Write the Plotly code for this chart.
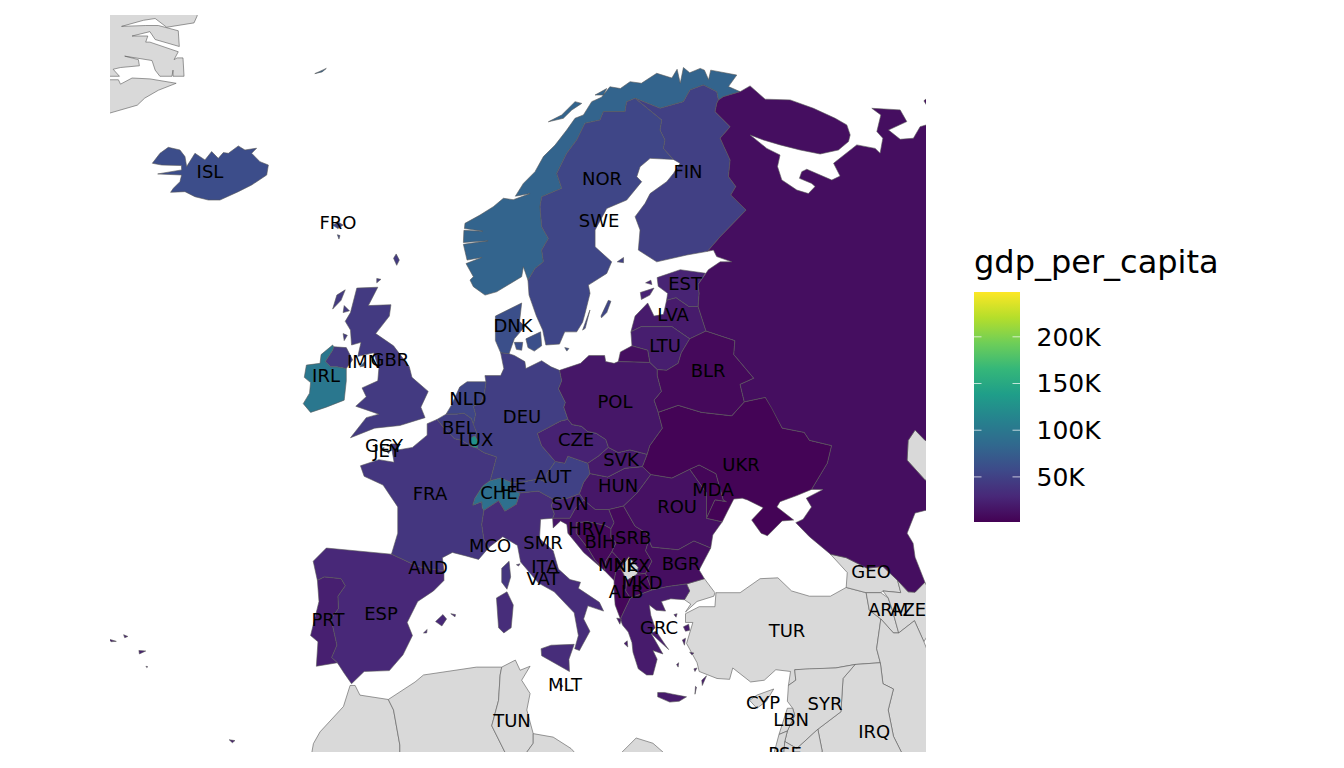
import plotly.graph_objects as go
from plotly.colors import sample_colorscale

# gdp per capita
GDP_CODES = ["ISL", "FRO", "NOR", "SWE", "FIN", "DNK", "EST", "LVA", "LTU", "BLR", "RUS", "POL", "DEU", "NLD", "BEL", "LUX",
             "FRA", "GBR", "IRL", "IMN", "GGY", "JEY", "CHE", "LIE", "AUT", "CZE", "SVK", "HUN", "SVN", "HRV", "BIH", "SRB",
             "MNE", "MKD", "ALB", "ROU", "BGR", "MDA", "UKR", "GRC", "ITA", "ESP", "PRT", "MLT", "AND", "MCO", "SMR"]
GDP_VALUES = [60000, 55000, 80000, 54000, 49000, 62000, 26000, 20000, 22000, 7000, 11000, 17000, 47000, 54000, 47000, 125000,
              41000, 44000, 100000, 75000, 52000, 58000, 92000, 170000, 50000, 25000, 19000, 17000, 27000, 16000, 7000, 8000,
              9000, 6500, 6000, 13000, 11000, 5000, 3500, 20000, 33000, 29000, 23000, 32000, 42000, 240000, 48000]
GREY_CODES = ["GRL", "TUR", "GEO", "ARM", "AZE", "IRN", "IRQ", "SYR", "LBN", "ISR", "JOR", "CYP", "KAZ", "XKX", "MAR", "DZA", "TUN", "LBY"]

CMIN = 1700
CMAX = 248000
LEGEND_TITLE = "gdp_per_capita"
LEGEND_TICKS = [50000, 100000, 150000, 200000]
LEGEND_LABELS = ["50K", "100K", "150K", "200K"]

LABEL_CODES = ["ISL", "FRO", "NOR", "FIN", "SWE", "EST", "LVA", "LTU", "DNK", "BLR", "IMN", "GBR", "IRL", "NLD", "DEU", "POL",
               "BEL", "LUX", "CZE", "GGY", "JEY", "SVK", "UKR", "AUT", "LIE", "CHE", "FRA", "HUN", "MDA", "SVN", "ROU", "HRV",
               "BIH", "SRB", "MCO", "SMR", "AND", "ITA", "VAT", "MNE", "XKX", "BGR", "MKD", "ALB", "PRT", "ESP", "GRC", "TUR",
               "GEO", "ARM", "AZE", "MLT", "TUN", "CYP", "LBN", "SYR", "IRQ", "PSE"]
LABEL_LON = [-19.08, -6.89, 18.25, 26.44, 17.97, 26.16, 25.02, 24.25, 9.78, 28.35, -4.41, -1.94, -8.03, 5.49, 10.63, 19.49,
             4.63, 6.25, 15.78, -2.51, -2.22, 20.06, 31.49, 13.59, 9.78, 8.44, 1.87, 19.78, 28.82, 15.21, 25.4, 16.82,
             18.06, 21.21, 7.59, 12.63, 1.68, 12.82, 12.63, 19.78, 21.11, 25.78, 22.06, 20.54, -7.84, -2.79, 23.68, 35.87,
             43.87, 45.49, 47.4, 14.73, 9.68, 33.59, 36.25, 39.49, 44.16, 35.68]
LABEL_LAT = [65.12, 62.26, 64.72, 65.12, 62.32, 58.72, 57.0, 55.23, 56.37, 53.8, 54.32, 54.43, 53.52, 52.2, 51.17, 52.03,
             50.55, 49.86, 49.86, 49.52, 49.23, 48.72, 48.43, 47.75, 47.29, 46.83, 46.77, 47.23, 47.0, 46.2, 46.03, 44.77,
             44.03, 44.26, 43.8, 43.97, 42.55, 42.6, 41.92, 42.72, 42.66, 42.77, 41.69, 41.17, 39.57, 39.92, 39.12, 38.95,
             42.32, 40.15, 40.15, 35.86, 33.8, 34.83, 33.86, 34.77, 33.17, 31.92]

# shared borders, (lon, lat)
NOR_SWE = [(21.4, 69.44), (20.6, 69.25), (20.44, 68.68), (18.38, 68.68), (18.06, 68.2), (16.63, 68.01), (15.84, 67.06), (14.89, 66.3),
           (13.94, 65.15), (14.41, 64.3), (12.51, 63.82), (12.35, 63.25), (12.51, 62.1), (13.14, 61.44), (12.51, 60.77), (12.67, 60.1),
           (11.87, 59.72), (11.4, 59.25), (11.2, 59.05)]
SWE_FIN = [(21.4, 69.44), (23.94, 68.2), (23.78, 67.63), (24.25, 67.06), (24.1, 66.58), (25.05, 65.95)]
NOR_FIN = [(29.33, 69.34), (29.17, 69.82), (27.9, 70.2), (26.63, 69.92), (26.0, 69.25), (23.78, 68.87), (21.4, 69.44)]
NOR_RUS = [(31.4, 69.82), (29.8, 69.53), (29.33, 69.34)]
FIN_RUS = [(28.3, 60.7), (29.5, 61.54), (31.97, 63.06), (30.51, 63.92), (30.99, 64.4), (30.29, 64.97), (30.45, 65.92), (29.5, 67.16),
           (30.45, 67.82), (29.02, 68.68), (29.18, 69.16), (29.33, 69.34)]
DEU_POL = [(14.2, 53.9), (14.4, 53.3), (14.1, 52.85), (14.75, 52.07), (14.6, 51.8), (15.0, 51.1)]
CZE_POL = [(15.0, 51.1), (15.4, 50.8), (16.3, 50.7), (16.9, 50.4), (17.7, 50.3), (18.6, 49.95), (18.85, 49.5)]
SVK_POL = [(18.85, 49.5), (19.8, 49.2), (20.9, 49.35), (22.55, 49.1)]
POL_UKR = [(22.55, 49.1), (22.8, 49.6), (24.0, 50.6), (23.6, 51.5)]
BLR_POL = [(23.6, 51.5), (23.2, 52.2), (23.9, 52.7), (23.5, 53.6), (23.5, 53.95)]
LTU_POL = [(23.5, 53.95), (22.8, 54.35)]
KAL_POL = [(22.8, 54.35), (19.8, 54.4)]
LTU_KAL = [(21.1, 55.3), (22.6, 55.05), (22.8, 54.35)]
DEU_NLD = [(7.2, 53.25), (7.05, 52.6), (6.7, 52.05), (6.0, 51.85), (6.2, 51.4), (6.0, 50.8)]
DEU_BEL = [(6.0, 50.8), (6.3, 50.35), (6.15, 50.15)]
DEU_LUX = [(6.15, 50.15), (6.5, 49.8), (6.35, 49.45)]
DEU_FRA = [(6.35, 49.45), (7.0, 49.2), (8.2, 48.95), (7.6, 47.6)]
DEU_CHE = [(7.6, 47.6), (8.6, 47.75), (9.6, 47.5)]
DEU_AUT = [(9.6, 47.5), (10.5, 47.5), (12.2, 47.7), (13.0, 47.5), (13.0, 48.0), (13.8, 48.7)]
DEU_CZE = [(13.8, 48.7), (12.5, 49.6), (12.1, 50.3), (14.3, 51.0), (15.0, 51.1)]
AUT_CZE = [(13.8, 48.7), (14.7, 48.6), (15.0, 49.0), (16.9, 48.6)]
SVK_CZE = [(16.9, 48.6), (17.9, 49.0), (18.85, 49.5)]
CHE_AUT = [(9.6, 47.5), (9.5, 47.1), (10.45, 46.9)]
ITA_AUT = [(10.45, 46.9), (12.2, 47.0), (13.7, 46.5)]
SVN_AUT = [(13.7, 46.5), (15.0, 46.6), (16.1, 46.85)]
HUN_AUT = [(16.1, 46.85), (16.5, 47.5), (17.1, 48.0)]
AUT_SVK = [(17.1, 48.0), (16.9, 48.6)]
SVK_HUN = [(17.1, 48.0), (18.8, 47.8), (20.4, 48.3), (22.1, 48.4)]
UKR_HUN = [(22.1, 48.4), (22.9, 47.95)]
ROU_HUN = [(22.9, 47.95), (21.6, 46.9), (20.3, 46.15)]
SRB_HUN = [(20.3, 46.15), (18.9, 45.95)]
HRV_HUN = [(16.5, 46.5), (17.6, 45.95), (18.9, 45.95)]
SVN_HUN = [(16.5, 46.5), (16.1, 46.85)]
SVK_UKR = [(22.55, 49.1), (22.1, 48.4)]
ROU_UKR_N = [(22.9, 47.95), (24.9, 47.75), (26.6, 48.25)]
ROU_UKR_S = [(29.7, 45.25), (28.2, 45.45)]
MDA_UKR = [(26.6, 48.25), (27.5, 48.5), (29.1, 48.0), (29.8, 46.5), (30.1, 46.4), (29.0, 46.5), (28.2, 45.45)]
ROU_MDA = [(26.6, 48.25), (28.2, 46.9), (28.2, 45.45)]
SRB_ROU = [(20.3, 46.15), (21.4, 45.0), (22.5, 44.6), (22.7, 44.2)]
BGR_ROU = [(22.7, 44.2), (23.0, 43.8), (25.5, 43.65), (27.0, 44.15), (28.6, 43.75)]
SRB_BGR = [(22.7, 44.2), (22.4, 43.6), (23.0, 43.0), (22.4, 42.3)]
MKD_BGR = [(22.4, 42.3), (23.0, 41.35)]
GRC_BGR = [(23.0, 41.35), (24.5, 41.55), (26.3, 41.7)]
TUR_BGR = [(26.3, 41.7), (28.0, 42.0)]
TUR_GRC = [(26.3, 41.7), (26.6, 41.3), (26.1, 40.8)]
ALB_GRC = [(20.0, 39.7), (20.95, 40.9)]
MKD_GRC = [(20.95, 40.9), (23.0, 41.35)]
ALB_MNE = [(19.4, 41.9), (19.6, 42.5), (20.05, 42.55)]
ALB_KOS = [(20.05, 42.55), (20.6, 41.9)]
ALB_MKD = [(20.6, 41.9), (20.5, 41.3), (20.95, 40.9)]
MNE_KOS = [(20.3, 42.85), (20.05, 42.55)]
SRB_MNE = [(19.2, 43.55), (20.3, 42.85)]
SRB_KOS = [(20.3, 42.85), (20.8, 43.25), (21.7, 42.65), (21.6, 42.25)]
MKD_KOS = [(21.6, 42.25), (20.6, 41.9)]
MKD_SRB = [(21.6, 42.25), (22.4, 42.3)]
BIH_MNE = [(18.5, 42.45), (18.6, 43.0), (19.2, 43.55)]
BIH_SRB = [(19.2, 43.55), (19.6, 44.05), (19.1, 44.35), (19.1, 44.85)]
SRB_HRV = [(19.1, 44.85), (19.4, 45.2), (18.9, 45.95)]
BIH_HRV = [(19.1, 44.85), (18.5, 45.05), (16.9, 45.25), (15.8, 45.2), (15.8, 44.6), (16.9, 43.75), (17.6, 43.05), (18.5, 42.45)]
SVN_HRV = [(13.55, 45.45), (15.2, 45.45), (15.7, 46.0), (16.5, 46.5)]
ITA_SVN = [(13.7, 46.5), (13.4, 46.2), (13.7, 45.7), (13.55, 45.45)]
CHE_ITA = [(10.45, 46.9), (10.1, 46.25), (9.0, 45.85), (8.4, 46.45), (7.0, 45.9)]
FRA_ITA = [(7.0, 45.9), (6.8, 45.1), (7.0, 44.25), (7.5, 43.8)]
FRA_CHE = [(7.6, 47.6), (6.9, 47.3), (6.15, 46.6), (5.95, 46.2), (6.8, 46.4), (6.85, 46.05), (7.0, 45.9)]
FRA_LUX = [(6.35, 49.45), (5.8, 49.55)]
BEL_LUX = [(5.8, 49.55), (5.75, 50.05), (6.15, 50.15)]
FRA_BEL = [(5.8, 49.55), (4.9, 49.9), (4.2, 50.0), (3.0, 50.75), (2.55, 51.1)]
NLD_BEL = [(3.4, 51.4), (4.4, 51.4), (5.1, 51.45), (5.8, 51.15), (6.0, 50.8)]
ESP_FRA = [(-1.8, 43.4), (0.7, 42.7), (1.45, 42.6), (3.2, 42.45)]
PRT_ESP = [(-6.95, 37.2), (-7.5, 37.5), (-7.0, 38.2), (-7.55, 39.7), (-6.85, 40.3), (-6.9, 41.0), (-6.2, 41.6), (-6.6, 42.0), (-8.2, 42.1), (-8.85, 41.9)]
LVA_EST = [(24.4, 57.9), (25.3, 58.05), (26.5, 57.55), (27.4, 57.55)]
EST_RUS = [(27.4, 57.55), (27.5, 58.3), (27.4, 58.8), (28.1, 59.45)]
LTU_LVA = [(21.0, 56.1), (22.0, 56.4), (24.9, 56.4), (26.6, 55.7)]
BLR_LVA = [(26.6, 55.7), (28.15, 56.15)]
LVA_RUS = [(28.15, 56.15), (27.4, 57.55)]
BLR_LTU = [(26.6, 55.7), (25.8, 54.9), (25.5, 54.3), (24.4, 53.9), (23.5, 53.95)]
BLR_RUS = [(28.15, 56.15), (30.9, 55.6), (30.8, 54.8), (32.7, 53.45), (31.4, 53.1), (31.8, 52.1)]
BLR_UKR = [(31.8, 52.1), (30.6, 51.3), (27.7, 51.5), (25.5, 51.9), (23.6, 51.5)]
UKR_RUS = [(31.8, 52.1), (33.8, 52.35), (34.4, 51.75), (35.4, 50.6), (37.5, 50.35), (38.0, 49.9), (40.1, 49.6), (39.7, 48.6), (38.2, 47.1)]
GEO_RUS = [(40.0, 43.4), (41.5, 43.2), (43.5, 42.6), (45.0, 42.7), (46.4, 41.9)]
AZE_RUS = [(46.4, 41.9), (47.4, 41.25), (48.06, 41.23), (49.0, 41.8)]
KAZ_RUS = [(56, 49.9), (49.02, 49.9), (48.06, 50.49), (47.4, 49.9), (47.3, 48.77), (49.02, 47.63), (56, 47.5)]

# coasts
NOR_COAST = [(11.2, 59.05), (10.76, 59.82), (10.6, 59.25), (8.22, 58.39), (7.11, 58.2), (6.0, 58.68), (5.68, 59.06), (6.0, 59.25), (5.3, 60.0), (6.8, 60.35), (5.4, 60.2),
             (5.05, 61.1), (7.4, 61.3), (5.05, 61.2), (5.1, 61.9), (6.9, 61.85), (5.15, 62.0), (5.2, 62.3), (6.63, 62.77), (7.9, 63.25), (8.86, 63.73), (9.8, 63.65), (11.4, 64.0),
             (10.0, 63.85), (10.76, 64.58), (11.87, 65.25), (12.67, 66.11), (13.78, 66.77), (14.89, 67.63), (15.68, 68.3), (16.48, 68.49), (17.27, 69.25), (18.2, 69.5), (19.0, 70.1),
             (20.0, 70.0), (20.92, 70.39), (22.0, 70.3), (23.46, 70.87), (24.9, 70.6), (25.4, 71.1), (25.7, 70.3), (26.0, 71.2), (26.6, 70.9), (27.6, 71.15), (28.0, 71.05),
             (28.4, 70.5), (28.6, 71.05), (29.5, 70.95), (31.08, 70.77), (30.29, 70.11), (31.4, 69.82)]
SWE_COAST = [(25.05, 65.95), (22.83, 66.01), (21.87, 65.53), (21.56, 64.96), (22.03, 64.68), (20.6, 63.63), (18.7, 63.15), (17.59, 61.92), (17.59, 60.96),
             (19.17, 60.1), (18.7, 59.44), (16.95, 58.77), (17.11, 58.3), (16.63, 57.15), (16.4, 56.65), (15.84, 56.1), (14.7, 56.1), (14.2, 55.4),
             (12.9, 55.35), (12.6, 56.2), (12.0, 57.0), (11.3, 58.2), (11.2, 59.05)]
FIN_COAST = [(25.05, 65.95), (25.68, 65.73), (25.05, 65.15), (24.41, 64.68), (22.83, 64.0), (22.35, 63.44), (21.4, 62.68), (21.87, 61.92), (21.71, 60.77),
             (23.46, 60.1), (26.32, 60.49), (28.3, 60.7)]
RUS_NORTH = [(31.4, 69.82), (32.35, 70.15), (33.78, 69.39), (36.16, 69.35), (38.38, 68.87), (40.45, 68.3), (41.56, 67.92), (41.88, 67.35), (41.72, 66.97),
             (40.76, 66.49), (39.02, 66.26), (37.11, 66.49), (35.21, 66.78), (33.62, 67.06), (32.35, 67.35), (33.94, 66.58), (35.2, 66.2), (34.96, 65.54),
             (35.37, 64.78), (36.8, 64.2), (37.9, 64.0), (38.54, 64.4), (38.22, 64.58), (37.05, 64.87), (37.27, 65.25), (37.75, 65.39), (40.13, 64.77),
             (40.92, 65.0), (40.3, 65.73), (41.24, 66.2), (42.51, 66.78), (44.26, 66.58), (44.73, 66.3), (44.99, 67.16), (44.42, 67.54), (44.8, 68.49),
             (43.94, 68.87), (46.64, 68.78), (47.27, 68.11), (45.53, 67.63), (46.64, 67.1), (47.9, 67.16), (48.54, 67.82), (49.11, 67.92), (56, 68.5)]
RUS_CASPIAN = [(56, 47.5), (56, 45.9), (49.02, 45.9), (48.06, 45.75), (47.3, 44.6), (47.87, 44.03), (48.06, 43.23), (49.0, 41.8)]
RUS_BLACK_SEA = [(40.0, 43.4), (38.0, 44.4), (36.7, 45.2), (37.4, 45.4), (38.2, 46.1), (37.7, 46.6), (39.3, 47.1), (38.2, 47.1)]
RUS_GULF = [(28.1, 59.45), (28.38, 59.65), (29.5, 60.1), (30.6, 60.1), (29.17, 60.4), (28.86, 60.77), (28.3, 60.7)]
POL_COAST = [(19.8, 54.4), (19.4, 54.3), (18.6, 54.4), (18.5, 54.75), (17.0, 54.75), (16.2, 54.3), (14.2, 53.9)]
DEU_COAST = [(14.2, 53.9), (13.4, 54.1), (12.5, 54.45), (11.0, 54.0), (10.9, 54.4), (9.9, 54.75), (9.4, 54.85), (8.6, 54.9), (8.9, 54.0), (8.6, 53.6),
             (7.1, 53.6), (7.2, 53.25)]
NLD_COAST = [(3.4, 51.4), (3.9, 51.9), (4.7, 52.95), (5.4, 53.25), (7.2, 53.25)]
BEL_COAST = [(2.55, 51.1), (3.4, 51.4)]
FRA_COAST_N = [(2.55, 51.1), (1.6, 50.85), (1.6, 50.2), (0.2, 49.5), (-1.2, 49.35), (-1.3, 49.7), (-1.85, 49.7), (-1.55, 48.65), (-3.0, 48.8), (-4.75, 48.45),
               (-4.4, 47.85), (-2.6, 47.35), (-1.2, 46.1), (-1.2, 44.6), (-1.8, 43.4)]
FRA_COAST_S = [(3.2, 42.45), (3.05, 43.2), (4.0, 43.5), (5.3, 43.3), (6.5, 43.1), (7.5, 43.8)]
ESP_COAST_E = [(3.2, 42.45), (3.2, 41.9), (2.2, 41.3), (0.7, 40.7), (-0.3, 39.5), (0.2, 38.75), (-0.7, 37.65), (-2.0, 36.75), (-4.4, 36.7), (-5.6, 36.0),
               (-6.3, 36.6), (-6.95, 37.2)]
ESP_COAST_N = [(-8.85, 41.9), (-9.25, 43.0), (-8.0, 43.75), (-3.8, 43.5), (-1.8, 43.4)]
PRT_COAST = [(-8.85, 41.9), (-8.7, 40.7), (-9.5, 38.75), (-8.8, 38.4), (-8.95, 37.0), (-6.95, 37.2)]
ITA_COAST = [(7.5, 43.8), (8.8, 44.4), (10.2, 43.9), (10.5, 42.95), (12.2, 41.75), (13.7, 41.25), (15.6, 40.05), (16.0, 38.75), (15.65, 38.0), (16.1, 37.9),
             (17.1, 39.0), (16.5, 39.7), (16.9, 40.45), (18.4, 40.15), (18.0, 40.65), (16.0, 41.45), (16.2, 41.8), (15.2, 41.95), (14.1, 42.55), (13.6, 43.6),
             (12.3, 44.3), (12.4, 45.4), (13.55, 45.45)]
HRV_COAST = [(18.5, 42.45), (16.5, 43.5), (15.0, 44.6), (14.9, 45.1), (14.3, 45.3), (13.6, 44.9), (13.55, 45.45)]
MNE_COAST = [(18.5, 42.45), (19.4, 41.9)]
ALB_COAST = [(19.4, 41.9), (19.4, 41.3), (19.5, 40.5), (20.0, 39.7)]
GRC_COAST = [(26.1, 40.8), (24.8, 40.85), (23.9, 40.7), (24.3, 40.15), (23.4, 40.2), (22.75, 40.5), (22.9, 39.9), (23.3, 39.2), (22.9, 38.9), (24.05, 37.7),
             (23.1, 37.9), (23.5, 37.4), (23.1, 36.5), (22.5, 36.5), (21.7, 36.85), (21.2, 37.8), (21.1, 38.35), (20.75, 38.95), (20.2, 39.35), (20.0, 39.7)]
BGR_COAST = [(28.6, 43.75), (27.5, 42.5), (28.0, 42.0)]
ROU_COAST = [(29.7, 45.25), (28.8, 44.5), (28.6, 43.75)]
UKR_COAST = [(38.2, 47.1), (36.8, 46.75), (35.2, 46.4), (34.9, 46.1), (36.5, 45.35), (35.4, 45.3), (34.0, 44.45), (33.4, 44.6), (32.5, 45.35), (33.6, 46.05),
             (32.1, 46.5), (31.6, 46.6), (30.8, 46.55), (30.2, 45.85), (29.7, 45.25)]
EST_COAST = [(28.1, 59.45), (25.7, 59.65), (23.5, 59.2), (23.6, 58.7), (24.5, 58.3), (24.4, 57.9)]
LVA_COAST = [(24.4, 57.9), (24.1, 57.1), (23.2, 57.0), (22.6, 57.75), (21.4, 57.0), (21.0, 56.1)]
LTU_COAST = [(21.0, 56.1), (21.1, 55.3)]
KAL_COAST = [(19.8, 54.4), (20.0, 54.95), (21.1, 55.3)]

OUTLINES = {
    "NOR": [NOR_COAST + NOR_RUS + NOR_FIN + NOR_SWE,
            [(-9.1, 70.85), (-8.0, 71.15), (-8.4, 70.95)],
            [(13.14, 68.1), (14.41, 68.49), (15.68, 69.25), (16.32, 69.15), (15.37, 68.77), (14.57, 68.3)],
            [(17.59, 69.63), (18.7, 70.0), (18.38, 69.63)]],
    "SWE": [SWE_FIN + SWE_COAST + NOR_SWE[::-1],
            [(18.15, 57.0), (18.85, 57.9), (19.1, 57.85), (18.7, 57.2), (18.2, 56.9)],
            [(16.4, 56.2), (17.1, 57.35), (16.65, 56.3)]],
    "FIN": [FIN_COAST + FIN_RUS + NOR_FIN + SWE_FIN,
            [(19.7, 60.1), (20.3, 60.35), (20.3, 60.05)]],
    "RUS": [RUS_NORTH + KAZ_RUS + RUS_CASPIAN + AZE_RUS[::-1] + GEO_RUS[::-1] + RUS_BLACK_SEA + UKR_RUS[::-1] + BLR_RUS[::-1] + LVA_RUS + EST_RUS + RUS_GULF + FIN_RUS + NOR_RUS[::-1],
            LTU_KAL + KAL_POL + KAL_COAST,
            [(48.9, 69.3), (49.3, 69.5), (49.3, 68.9)]],
    "DNK": [[(8.6, 54.9), (8.1, 55.6), (8.1, 57.0), (10.6, 57.75), (10.4, 56.7), (10.9, 56.4), (9.9, 55.7), (9.4, 54.85)],
            [(11.0, 55.7), (12.4, 56.1), (12.5, 55.3), (11.8, 55.0), (11.2, 55.2)],
            [(9.9, 55.5), (10.7, 55.5), (10.6, 55.05), (10.1, 55.1)],
            [(14.7, 55.2), (15.1, 55.15), (14.9, 55.0)]],
    "EST": [EST_COAST + LVA_EST + EST_RUS,
            [(21.9, 58.35), (23.2, 58.6), (22.8, 58.2), (22.0, 57.95)],
            [(22.4, 58.9), (22.9, 59.05), (23.0, 58.8)]],
    "LVA": [LVA_COAST + LTU_LVA + BLR_LVA + LVA_RUS + LVA_EST[::-1]],
    "LTU": [LTU_COAST + LTU_KAL + LTU_POL[::-1] + BLR_LTU[::-1] + LTU_LVA[::-1]],
    "BLR": [BLR_LVA + BLR_RUS + BLR_UKR + BLR_POL + BLR_LTU[::-1]],
    "POL": [DEU_POL + CZE_POL + SVK_POL + POL_UKR + BLR_POL + LTU_POL + KAL_POL + POL_COAST],
    "DEU": [DEU_COAST + DEU_NLD + DEU_BEL + DEU_LUX + DEU_FRA + DEU_CHE + DEU_AUT + DEU_CZE + DEU_POL[::-1]],
    "NLD": [NLD_COAST + DEU_NLD + NLD_BEL[::-1]],
    "BEL": [BEL_COAST + NLD_BEL + DEU_BEL + BEL_LUX[::-1] + FRA_BEL],
    "LUX": [BEL_LUX + DEU_LUX + FRA_LUX],
    "FRA": [FRA_COAST_N + ESP_FRA + FRA_COAST_S + FRA_ITA[::-1] + FRA_CHE[::-1] + DEU_FRA[::-1] + FRA_LUX + FRA_BEL,
            [(8.7, 42.6), (9.4, 43.0), (9.55, 42.1), (9.2, 41.4), (8.7, 41.8)]],
    "GBR": [[(-5.1, 58.6), (-3.1, 58.65), (-4.0, 57.6), (-1.85, 57.65), (-2.0, 57.0), (-3.3, 56.0), (-1.6, 55.3), (-0.1, 54.1), (0.15, 53.5), (1.7, 52.7),
             (1.0, 51.8), (1.4, 51.2), (-1.0, 50.75), (-3.4, 50.6), (-5.7, 50.05), (-4.2, 51.2), (-3.0, 51.4), (-5.2, 51.85), (-4.2, 52.4), (-4.6, 52.9),
             (-3.1, 53.3), (-3.0, 54.0), (-3.5, 54.9), (-5.0, 54.7), (-4.7, 55.5), (-5.6, 55.35), (-5.7, 56.2), (-6.2, 56.7), (-5.7, 57.2)],
            [(-7.3, 55.25), (-6.1, 55.2), (-5.5, 54.5), (-6.1, 54.0), (-7.0, 54.1), (-7.6, 54.1), (-8.1, 54.4), (-7.4, 55.05)],
            [(-6.2, 58.5), (-7.0, 58.2), (-7.4, 57.4), (-6.6, 57.9)],
            [(-6.3, 57.6), (-5.8, 57.3), (-6.4, 57.2)],
            [(-6.4, 56.0), (-6.0, 55.9), (-6.3, 55.6)],
            [(-3.2, 59.15), (-2.8, 59.1), (-3.2, 58.9)],
            [(-1.35, 60.55), (-1.05, 60.2), (-1.3, 59.9), (-1.6, 60.3)]],
    "IRL": [[(-6.1, 54.0), (-6.1, 53.3), (-6.3, 52.2), (-8.0, 51.8), (-9.5, 51.5), (-10.2, 52.0), (-9.6, 52.6), (-9.5, 53.2), (-10.1, 53.5), (-9.9, 54.2),
             (-8.6, 54.3), (-8.5, 54.8), (-7.4, 55.35), (-7.3, 55.25), (-7.4, 55.05), (-8.1, 54.4), (-7.6, 54.1), (-7.0, 54.1)]],
    "ISL": [[(-24.57, 65.73), (-23.84, 66.3), (-23.05, 66.64), (-21.94, 66.49), (-21.46, 66.11), (-21.3, 65.54), (-20.51, 66.3), (-19.56, 65.92), (-18.92, 66.4),
             (-18.29, 66.01), (-17.81, 66.34), (-17.33, 66.3), (-16.38, 66.72), (-15.75, 66.49), (-14.64, 66.59), (-15.11, 66.3), (-14.32, 65.82), (-13.52, 65.63),
             (-13.68, 65.06), (-15.11, 64.49), (-16.38, 64.11), (-18.13, 63.63), (-19.24, 63.63), (-20.51, 63.82), (-21.46, 64.11), (-22.83, 64.07), (-22.57, 64.3),
             (-21.94, 64.68), (-21.78, 65.06), (-24.06, 65.12), (-21.78, 65.35), (-21.8, 65.6), (-23.68, 65.63)]],
    "FRO": [[(-7.4, 62.2), (-6.8, 62.35), (-6.4, 62.2), (-6.9, 62.0)], [(-6.95, 61.65), (-6.7, 61.6), (-6.8, 61.4)]],
    "IMN": [[(-4.8, 54.1), (-4.35, 54.4), (-4.4, 54.15)]],
    "GGY": [[(-2.65, 49.45), (-2.5, 49.5), (-2.55, 49.4)]],
    "JEY": [[(-2.25, 49.25), (-2.0, 49.25), (-2.05, 49.15)]],
    "CHE": [DEU_CHE + CHE_AUT + CHE_ITA + FRA_CHE[::-1]],
    "LIE": [[(9.47, 47.25), (9.63, 47.2), (9.55, 47.05)]],
    "AUT": [DEU_AUT + AUT_CZE + AUT_SVK[::-1] + HUN_AUT[::-1] + SVN_AUT[::-1] + ITA_AUT[::-1] + CHE_AUT[::-1]],
    "CZE": [DEU_CZE + CZE_POL + SVK_CZE[::-1] + AUT_CZE[::-1]],
    "SVK": [SVK_CZE + SVK_POL + SVK_UKR + SVK_HUN[::-1] + AUT_SVK],
    "HUN": [SVK_HUN + UKR_HUN + ROU_HUN + SRB_HUN + HRV_HUN[::-1] + SVN_HUN + HUN_AUT],
    "SVN": [ITA_SVN + SVN_HRV + SVN_HUN + SVN_AUT[::-1]],
    "HRV": [HRV_HUN + SRB_HRV[::-1] + BIH_HRV + HRV_COAST + SVN_HRV],
    "BIH": [BIH_MNE + BIH_SRB + BIH_HRV],
    "SRB": [SRB_HUN[::-1] + SRB_ROU + SRB_BGR + MKD_SRB[::-1] + SRB_KOS[::-1] + SRB_MNE[::-1] + BIH_SRB + SRB_HRV],
    "MNE": [MNE_COAST + ALB_MNE + MNE_KOS[::-1] + SRB_MNE[::-1] + BIH_MNE[::-1]],
    "XKX": [SRB_KOS + MKD_KOS + ALB_KOS[::-1] + MNE_KOS[::-1]],
    "MKD": [MKD_SRB + MKD_BGR + MKD_GRC[::-1] + ALB_MKD[::-1] + MKD_KOS[::-1]],
    "ALB": [ALB_COAST + ALB_GRC + ALB_MKD[::-1] + ALB_KOS[::-1] + ALB_MNE[::-1]],
    "ROU": [ROU_HUN[::-1] + ROU_UKR_N + ROU_MDA + ROU_UKR_S[::-1] + ROU_COAST + BGR_ROU[::-1] + SRB_ROU[::-1]],
    "BGR": [BGR_ROU + BGR_COAST + TUR_BGR[::-1] + GRC_BGR[::-1] + MKD_BGR[::-1] + SRB_BGR[::-1]],
    "MDA": [MDA_UKR + ROU_MDA[::-1]],
    "UKR": [POL_UKR + BLR_UKR[::-1] + UKR_RUS + UKR_COAST + ROU_UKR_S + MDA_UKR[::-1] + ROU_UKR_N[::-1] + UKR_HUN[::-1] + SVK_UKR[::-1]],
    "GRC": [GRC_COAST + ALB_GRC + MKD_GRC + GRC_BGR + TUR_GRC,
            [(23.55, 35.5), (24.2, 35.5), (25.0, 35.4), (26.3, 35.25), (25.6, 35.0), (24.7, 34.95), (23.55, 35.25)],
            [(22.9, 38.9), (23.4, 39.0), (24.3, 38.2), (24.6, 37.95), (23.6, 38.5)],
            [(26.0, 39.25), (26.5, 39.4), (26.6, 39.05), (26.2, 39.0)],
            [(25.9, 38.5), (26.2, 38.6), (26.1, 38.2)],
            [(26.6, 37.8), (27.0, 37.75), (26.8, 37.65)],
            [(27.75, 36.2), (28.2, 36.45), (27.8, 35.9)],
            [(19.65, 39.75), (20.1, 39.7), (19.95, 39.4)],
            [(20.35, 38.3), (20.65, 38.45), (20.7, 38.1)],
            [(25.1, 39.95), (25.4, 40.0), (25.3, 39.8)],
            [(25.35, 37.1), (25.55, 37.2), (25.5, 36.95)],
            [(27.0, 36.85), (27.3, 36.9), (27.1, 36.7)],
            [(27.15, 35.85), (27.25, 35.8), (27.1, 35.4)]],
    "ITA": [CHE_ITA + FRA_ITA + ITA_COAST + ITA_SVN[::-1] + ITA_AUT[::-1],
            [(12.45, 38.0), (13.4, 38.2), (15.6, 38.25), (15.1, 37.4), (15.15, 36.7), (14.3, 37.0), (12.5, 37.6)],
            [(8.2, 40.9), (9.2, 41.25), (9.8, 40.5), (9.6, 39.2), (8.9, 38.9), (8.4, 39.2)],
            [(10.1, 42.8), (10.45, 42.85), (10.3, 42.72)]],
    "ESP": [ESP_COAST_E + PRT_ESP + ESP_COAST_N + ESP_FRA,
            [(2.4, 39.55), (3.1, 39.95), (3.45, 39.7), (3.0, 39.3)],
            [(3.85, 40.0), (4.3, 39.95), (4.25, 39.82)],
            [(1.25, 38.9), (1.6, 39.1), (1.55, 38.9)]],
    "PRT": [PRT_COAST + PRT_ESP,
            [(-28.7, 38.55), (-28.0, 38.42), (-28.5, 38.4)],
            [(-27.3, 38.8), (-26.9, 38.7), (-27.2, 38.63)],
            [(-25.85, 37.9), (-25.2, 37.87), (-25.8, 37.7)],
            [(-25.18, 37.0), (-25.0, 36.97), (-25.1, 36.92)],
            [(-17.25, 32.8), (-16.7, 32.75), (-16.95, 32.63)]],
    "MLT": [[(14.2, 36.03), (14.55, 35.85), (14.35, 35.8)]],
    "AND": [[(1.42, 42.65), (1.72, 42.6), (1.5, 42.43)]],
    "MCO": [[(7.38, 43.76), (7.46, 43.77), (7.42, 43.71)]],
    "SMR": [[(12.4, 43.98), (12.5, 43.98), (12.46, 43.89)]],
    "GRL": [[(-40, 76), (-20.3, 76), (-20.3, 74.15), (-20.6, 73.75), (-23.2, 73.5), (-24.3, 74.0), (-25.4, 73.9), (-27.5, 73.55), (-25.2, 73.6), (-24.0, 73.6),
             (-22.1, 73.3), (-22.0, 72.4), (-24.3, 72.8), (-24.8, 73.25), (-26.5, 73.0), (-25.0, 73.0), (-25.2, 72.65), (-24.8, 72.65), (-22.1, 72.1),
             (-22.5, 71.65), (-22.2, 71.75), (-21.65, 71.75), (-21.55, 70.7), (-22.6, 70.7), (-22.6, 71.05), (-22.7, 70.7), (-23.85, 70.7), (-24.3, 71.05),
             (-24.6, 71.6), (-25.95, 71.75), (-27.2, 71.85), (-25.9, 71.65), (-25.8, 71.3), (-27.6, 71.2), (-28.3, 71.1), (-27.7, 70.7), (-28.3, 70.7), (-40, 70.7)],
            [(-40, 68), (-28.6, 68.6), (-26.0, 69.05), (-25.3, 69.45), (-24.0, 69.9), (-22.3, 70.3), (-24.8, 70.55), (-26.5, 70.6), (-27.6, 70.25), (-27.8, 70.5), (-40, 70.5)]],
    "TUR": [[(29.1, 41.2), (31.4, 41.2), (33.3, 42.0), (35.0, 42.05), (36.3, 41.3), (38.0, 41.0), (40.0, 41.0), (41.5, 41.5), (43.4, 41.2), (43.7, 40.2), (44.8, 39.7),
             (44.4, 38.0), (44.75, 37.2), (42.35, 37.1), (40.5, 36.9), (38.0, 36.85), (36.6, 36.8), (36.7, 36.2), (36.0, 35.9), (36.2, 36.7), (34.8, 36.8), (33.7, 36.2),
             (32.4, 36.1), (30.7, 36.9), (30.4, 36.25), (29.2, 36.3), (27.5, 36.7), (27.3, 37.2), (26.3, 38.3), (26.9, 39.5), (26.2, 39.5), (26.2, 40.0), (27.5, 40.4),
             (29.0, 40.4)],
            [(28.0, 42.0), (29.0, 41.2), (28.9, 41.0), (27.3, 40.7), (26.2, 40.1), (26.7, 40.55), (26.1, 40.8), (26.6, 41.3), (26.3, 41.7)]],
    "GEO": [[(40.0, 43.4), (41.6, 42.35), (41.5, 41.5), (43.4, 41.2), (44.8, 41.2), (45.0, 41.3), (46.7, 41.2), (46.4, 41.9), (45.0, 42.7), (43.5, 42.6), (41.5, 43.2)]],
    "ARM": [[(43.4, 41.2), (44.8, 41.2), (45.5, 40.9), (45.9, 40.2), (46.5, 38.9), (46.0, 38.9), (44.8, 39.7), (43.7, 40.2)]],
    "AZE": [[(45.0, 41.3), (46.7, 41.2), (46.4, 41.9), (47.4, 41.25), (48.06, 41.23), (49.0, 41.8), (50.0, 40.5), (49.5, 39.0), (48.9, 38.4), (48.0, 39.6), (46.5, 38.9), (45.9, 40.2), (45.5, 40.9)]],
    "IRN": [[(44.8, 39.7), (46.0, 38.9), (46.5, 38.9), (48.0, 39.6), (48.9, 38.4), (49.5, 37.5), (56, 37), (56, 30), (48.5, 30), (46, 33), (45.5, 34.5), (46, 35.7), (45, 36), (44.75, 37.2), (44.4, 38.0)]],
    "IRQ": [[(42.35, 37.1), (44.75, 37.2), (45, 36), (46, 35.7), (45.5, 34.5), (46, 33), (48.5, 30), (39.2, 30), (39.2, 32.2), (38.8, 33.4), (41, 34.4), (41.2, 36.3)]],
    "SYR": [[(42.35, 37.1), (40.5, 36.9), (38.0, 36.85), (36.6, 36.8), (36.7, 36.2), (36.0, 35.9), (35.9, 35.0), (36.4, 34.6), (36.6, 34.2), (35.9, 33.3), (35.65, 32.7), (36.8, 32.3), (38.8, 33.4), (41, 34.4), (41.2, 36.3)]],
    "LBN": [[(35.9, 34.6), (36.4, 34.6), (36.6, 34.2), (35.9, 33.3), (35.1, 33.1), (35.5, 33.9)]],
    "ISR": [[(35.1, 33.1), (35.9, 33.3), (35.65, 32.7), (35.55, 32.0), (35.5, 31.5), (35.0, 29.5), (34.3, 31.3)]],
    "JOR": [[(35.65, 32.7), (36.8, 32.3), (38.8, 33.4), (39.2, 32.2), (39.2, 30), (35.0, 29.5), (35.5, 31.5), (35.55, 32.0)]],
    "CYP": [[(32.3, 35.05), (33.0, 35.35), (34.6, 35.7), (33.9, 35.0), (33.0, 34.6)]],
    "KAZ": [KAZ_RUS],
    "MAR": [[(-5.26, 35.9), (-5.74, 35.9), (-6.37, 34.7), (-8.6, 33.25), (-9.23, 32.58), (-10, 30), (-1, 30), (-1, 32.5), (-1.6, 34.5), (-2.1, 35.1), (-4.8, 35.35)]],
    "DZA": [[(-2.1, 35.1), (0.45, 36.1), (1.25, 36.5), (6.3, 36.95), (8.7, 36.95), (8.55, 36.5), (8.4, 35.05), (7.75, 33.6), (9.0, 32.1), (9.5, 30), (-1, 30), (-1, 32.5), (-1.6, 34.5)]],
    "TUN": [[(8.7, 36.95), (10.0, 37.35), (10.45, 36.77), (11.4, 37.0), (10.6, 36.2), (11.4, 35.44), (11.09, 34.5), (11.7, 33.15), (11.7, 32.6), (11.1, 32.1), (9.5, 30), (9.0, 32.1), (7.75, 33.6), (8.4, 35.05), (8.55, 36.5)]],
    "LBY": [[(11.7, 33.15), (13.6, 32.95), (15.3, 32.3), (18, 30.5), (20, 32), (21.5, 32.9), (23.1, 32.6), (25, 31.6), (25, 29), (9.5, 30), (11.1, 32.1), (11.7, 32.6)]],
}


def outline_xy(code):
    xs, ys = [], []
    for ring in OUTLINES[code]:
        xs += [p[0] for p in ring] + [ring[0][0], None]
        ys += [p[1] for p in ring] + [ring[0][1], None]
    return xs, ys


def add_country(fig, code, color):
    xs, ys = outline_xy(code)
    fig.add_trace(go.Scatter(x=xs, y=ys, mode="lines", fill="toself", fillcolor=color,
                             line=dict(color="#595959", width=0.6), hoverinfo="skip", showlegend=False))


fig = go.Figure()

for code in GREY_CODES:
    add_country(fig, code, "#d9d9d9")

for code, value in zip(GDP_CODES, GDP_VALUES):
    color = sample_colorscale("Viridis", (value - CMIN) / (CMAX - CMIN))[0]
    add_country(fig, code, color)

fig.add_trace(go.Scatter(x=LABEL_LON, y=LABEL_LAT, text=LABEL_CODES, mode="text", textposition="middle center",
                         textfont=dict(family="DejaVu Sans", size=18, color="black"), hoverinfo="skip", showlegend=False))

# only here for the colour bar, sits outside the axis range
fig.add_trace(go.Scatter(x=[100], y=[0], mode="markers", hoverinfo="skip", showlegend=False,
                         marker=dict(color=[CMIN], cmin=CMIN, cmax=CMAX, colorscale="Viridis", showscale=True,
                                     colorbar=dict(x=1.0588, xanchor="left", xpad=0, y=0.3121, yanchor="bottom", ypad=0,
                                                   lenmode="pixels", len=230, thicknessmode="pixels", thickness=46,
                                                   tickvals=LEGEND_TICKS, ticktext=LEGEND_LABELS,
                                                   tickfont=dict(family="DejaVu Sans", size=25, color="black"),
                                                   ticks="outside", ticklen=12, tickcolor="rgba(255,255,255,0)", tickwidth=1,
                                                   outlinewidth=0))))

fig.add_annotation(x=(974 - 110) / 816, y=1 - (262 - 15) / 737, xref="paper", yref="paper", text=LEGEND_TITLE, showarrow=False,
                   xanchor="left", yanchor="middle", xshift=-2, font=dict(family="DejaVu Sans", size=32, color="black"))

# ticks on both sides of the bar, white and a bit see-through
for tick in LEGEND_TICKS:
    tick_y = 1 - (522 - (tick - CMIN) / (CMAX - CMIN) * 230 - 15) / 737
    for tick_x, tail in [((974 - 110) / 816, 9), ((1020 - 110) / 816, -9)]:
        fig.add_annotation(x=tick_x, y=tick_y, xref="paper", yref="paper", ax=tail, ay=0, text="", showarrow=True,
                           arrowhead=0, arrowwidth=1, arrowcolor="rgba(255,255,255,0.7)", standoff=0)

fig.update_xaxes(range=[-28.6, 49.1], visible=False)
fig.update_yaxes(range=[32.1, 74.2], visible=False)
fig.update_layout(width=1328, height=752, margin=dict(l=102, r=410, t=7, b=8), plot_bgcolor="white", paper_bgcolor="white")
fig.write_html("out.html")
